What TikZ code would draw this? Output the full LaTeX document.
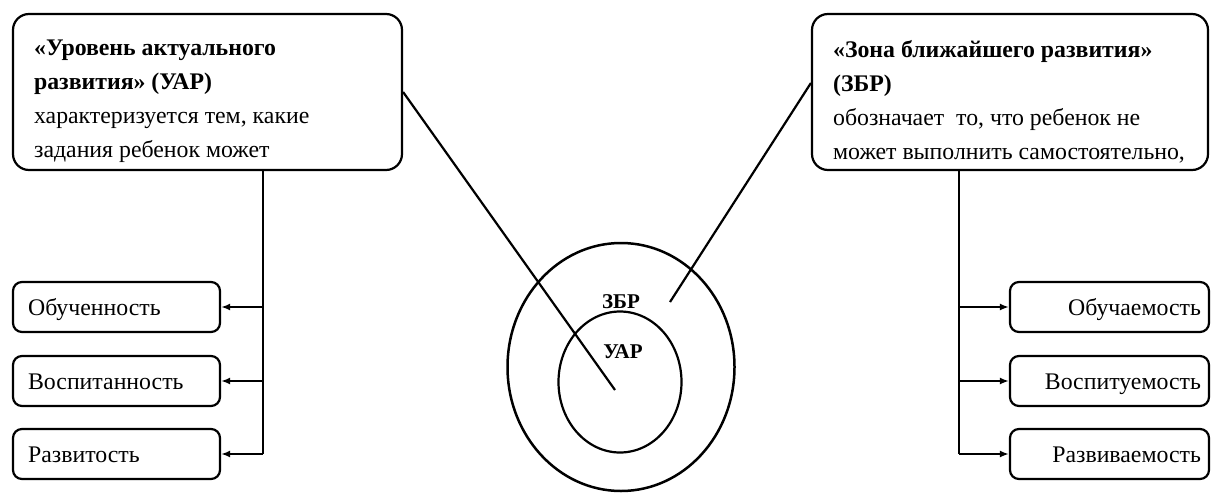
\documentclass[tikz,border=0pt]{standalone}
\usepackage{fontspec}
\setmainfont{Liberation Serif}
\usetikzlibrary{arrows.meta,shapes.geometric,calc}
\begin{document}
\begin{tikzpicture}[x=1pt,y=-1pt,
  line width=2.2pt,
  bigbox/.style={draw, rounded corners=16pt, minimum width=#1, minimum height=156pt, inner sep=0pt},
  smallbox/.style={draw, rounded corners=9pt, minimum width=207pt, minimum height=50pt, inner sep=0pt},
  txt/.style={font=\fontsize{23.8}{34}\selectfont, inner sep=0pt, align=left},
  itemtxt/.style={font=\fontsize{23.8}{25}\selectfont, inner sep=0pt},
  lbl/.style={font=\fontsize{21}{22}\selectfont\bfseries, inner sep=0pt},
  arr/.style={-{Latex[length=9pt,width=7pt]}}
]
\useasboundingbox (0,0) rectangle (1212,493);
% top boxes
\node[bigbox=389pt] (L) at (207.5,92) {};
\node[bigbox=396pt] (R) at (1010,92) {};
\node[txt, anchor=north west] (Lt) at (33,39) {\textbf{«Уровень актуального}\\\textbf{развития» (УАР)}\\характеризуется тем, какие\\задания ребенок может};
\node[txt, anchor=north west] (Rt) at (832,39) {\textbf{«Зона ближайшего развития»}\\\textbf{(ЗБР)}\\обозначает\ \ то, что ребенок не\\может выполнить самостоятельно,};
% left items
\node[smallbox] (L1) at (116.5,307) {};
\node[smallbox] (L2) at (116.5,381) {};
\node[smallbox] (L3) at (116.5,454) {};
\node[itemtxt, anchor=base west] (L1t) at (27,315) {Обученность};
\node[itemtxt, anchor=base west] (L2t) at (27,389) {Воспитанность};
\node[itemtxt, anchor=base west] (L3t) at (27,462) {Развитость};
% right items
\node[smallbox, minimum width=199pt] (R1) at (1109.5,307) {};
\node[smallbox, minimum width=199pt] (R2) at (1109.5,381) {};
\node[smallbox, minimum width=199pt] (R3) at (1109.5,454) {};
\node[itemtxt, anchor=base east] (R1t) at (1202,315) {Обучаемость};
\node[itemtxt, anchor=base east] (R2t) at (1202,389) {Воспитуемость};
\node[itemtxt, anchor=base east] (R3t) at (1202,462) {Развиваемость};
% trunks
\coordinate (LT) at (263,170);
\coordinate (LB) at (263,454);
\coordinate (RT) at (959,170);
\coordinate (RB) at (959,454);
\draw (LT) -- (LB);
\draw (RT) -- (RB);
\draw[arr] (L1.east -| LT) -- (L1.east);
\draw[arr] (L2.east -| LT) -- (L2.east);
\draw[arr] (LB) -- (L3.east);
\draw[arr] (R1.west -| RT) -- (R1.west);
\draw[arr] (R2.west -| RT) -- (R2.west);
\draw[arr] (RB) -- (R3.west);
% circles
\node[draw, ellipse, line width=2.5pt, minimum width=227pt, minimum height=248pt, inner sep=0pt] (outer) at (621,367) {};
\node[draw, ellipse, line width=2.2pt, minimum width=123pt, minimum height=141pt, inner sep=0pt] (inner) at (620,382) {};
\node[lbl] (zbr) at (621,302) {ЗБР};
\node[lbl] (uar) at (623,352) {УАР};
% connectors
\coordinate (Lend) at (615,390);
\coordinate (Rend) at (670,302);
\draw (L.east) -- (Lend);
\draw ([yshift=9pt]R.west) -- (Rend);
\end{tikzpicture}
\end{document}
